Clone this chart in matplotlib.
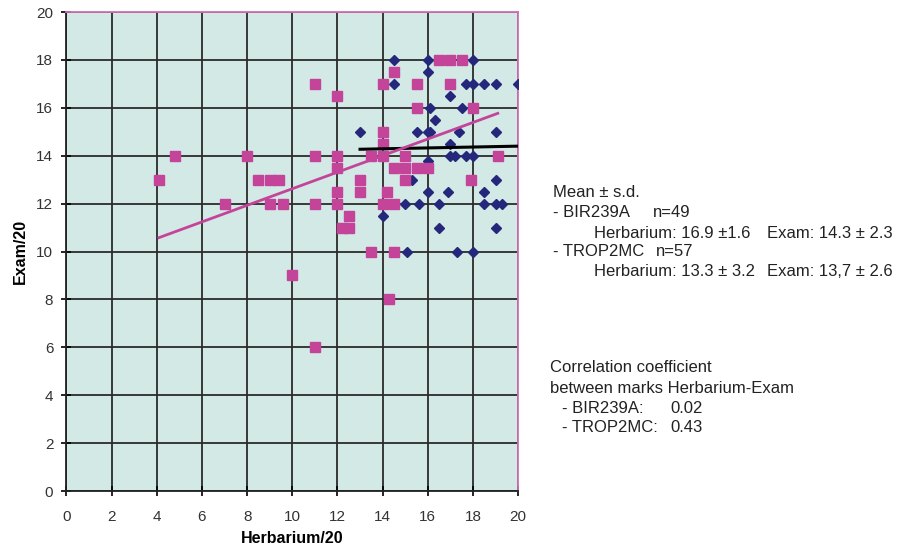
import numpy as np
import matplotlib
matplotlib.use("Agg")
import matplotlib.pyplot as plt

plt.rcParams['font.family'] = ['Liberation Sans', 'DejaVu Sans']

# BIR239A (blue diamonds): herbarium mark, exam mark
bir_herb = [14.5, 16, 18, 16, 14.5, 17.7, 18, 18.5, 19, 20,
            17, 17.5, 16.1, 16.3, 13, 15.5, 16, 16.1, 17.4, 19,
            17, 17, 17.2, 17.7, 18, 16, 15.3, 19, 16, 16.9,
            18.5, 15, 15.6, 16.5, 18.5, 19, 19.3, 14, 16.5, 19,
            15.1, 17.3, 18]
bir_exam = [18, 18, 18, 17.5, 17, 17, 17, 17, 17, 17,
            16.5, 16, 16, 15.5, 15, 15, 15, 15, 15, 15,
            14.5, 14, 14, 14, 14, 13.8, 13, 13, 12.5, 12.5,
            12.5, 12, 12, 12, 12, 12, 12, 11.5, 11, 11,
            10, 10, 10]

# TROP2MC (pink squares)
trop_herb = [16.5, 17, 17.5, 14.5, 14, 15.5, 17, 11, 12, 15.5,
             18, 14, 14, 4.8, 8, 11, 12, 13.5, 14, 15,
             19.1, 12, 14.5, 15, 15.5, 16, 4.1, 8.5, 9, 9.4,
             13, 15, 17.9, 12, 13, 14.2, 7, 9, 9.6, 11,
             12, 14, 14.5, 12.5, 12.2, 12.5, 13.5, 14.5, 10, 14.3,
             11]
trop_exam = [18, 18, 18, 17.5, 17, 17, 17, 17, 16.5, 16,
             16, 15, 14.5, 14, 14, 14, 14, 14, 14, 14,
             14, 13.5, 13.5, 13.5, 13.5, 13.5, 13, 13, 13, 13,
             13, 13, 13, 12.5, 12.5, 12.5, 12, 12, 12, 12,
             12, 12, 12, 11.5, 11, 11, 10, 10, 9, 8,
             6]

# trend lines as drawn
bir_fit_x = [13, 20]
bir_fit_y = [14.27, 14.4]
trop_fit_x = [4.1, 19.1]
trop_fit_y = [10.58, 15.77]

ticks = np.arange(0, 21, 2)

pink = '#c4449a'
navy = '#25287a'

fig = plt.figure(figsize=(8.98, 5.52), dpi=100)
ax = fig.add_axes([0.074, 0.1105, 0.503, 0.8677])
ax.set_facecolor('#d3e9e6')

ax.plot(bir_herb, bir_exam, 'D', color=navy, markersize=5.5, zorder=3)
ax.plot(trop_herb, trop_exam, 's', color=pink, markersize=7, zorder=4)
ax.plot(bir_fit_x, bir_fit_y, color='black', linewidth=2.2, zorder=5)
ax.plot(trop_fit_x, trop_fit_y, color=pink, linewidth=2, zorder=5)

ax.set_xlim(0, 20)
ax.set_ylim(0, 20)
ax.set_xticks(ticks)
ax.set_yticks(ticks)
ax.grid(True, color='#2b2b2b', linewidth=1.3, zorder=1)
ax.set_axisbelow(True)
ax.tick_params(direction='inout', length=7, width=1.2, labelsize=11,
               labelcolor='#333333')
ax.tick_params(axis='x', pad=10)
ax.tick_params(axis='y', pad=6)
for side in ['left', 'bottom']:
    ax.spines[side].set_color('#222222')
    ax.spines[side].set_linewidth(1.3)
for side in ['top', 'right']:
    ax.spines[side].set_color('#d070b8')
    ax.spines[side].set_linewidth(1.3)

ax.set_xlabel('Herbarium/20', fontsize=11.5, fontweight='bold', labelpad=5)
ax.set_ylabel('Exam/20', fontsize=11.5, fontweight='bold', labelpad=6)

# text block on the right (pixel coords from top-left)
W, H = 898, 552
def put(x, y, s):
    fig.text(x / W, 1 - y / H, s, fontsize=12, color='#222222',
             ha='left', va='baseline')

put(553, 197, 'Mean ± s.d.')
put(553, 217, '- BIR239A')
put(653, 217, 'n=49')
put(594, 237.5, 'Herbarium: 16.9 ±1.6')
put(767, 237.5, 'Exam: 14.3 ± 2.3')
put(553, 256.5, '- TROP2MC')
put(656, 256.5, 'n=57')
put(594, 275.5, 'Herbarium: 13.3 ± 3.2')
put(767, 275.5, 'Exam: 13,7 ± 2.6')

put(550, 372, 'Correlation coefficient')
put(550, 393, 'between marks Herbarium-Exam')
put(562, 413, '- BIR239A:')
put(670, 413, '0.02')
put(562, 432, '- TROP2MC:')
put(670, 432, '0.43')

fig.savefig('out.png', dpi=100)
